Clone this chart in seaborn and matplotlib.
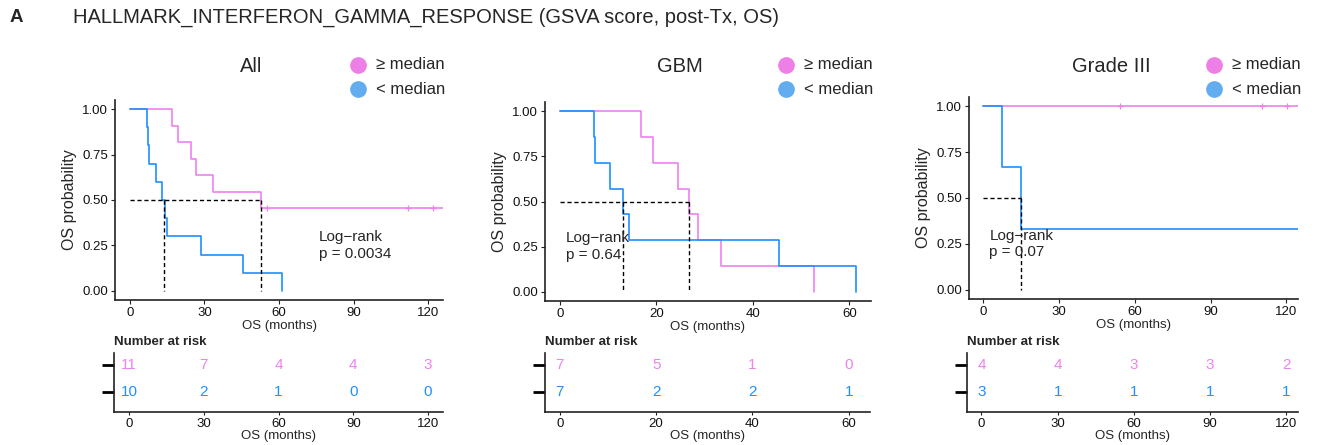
import numpy as np
import pandas as pd
import matplotlib
matplotlib.use("Agg")
import matplotlib.pyplot as plt
import matplotlib.transforms as mtransforms
import seaborn as sns

# ---------------- data ----------------
panel_titles = ["All", "GBM", "Grade III"]
group_labels = ["\u2265 median", "< median"]

# event (death) times and censored times, months
all_hi_events = [16.8, 19.3, 24.4, 26.7, 33.4, 52.6]
all_hi_censored = [55.0, 112.0, 122.0, 130.0, 131.0]
all_lo_events = [7.0, 7.4, 7.7, 10.5, 13.0, 14.1, 15.0, 28.7, 45.4, 61.3]
all_lo_censored = []

gbm_hi_events = [16.8, 19.3, 24.5, 26.7, 28.7, 33.3, 52.6]
gbm_hi_censored = []
gbm_lo_events = [7.0, 7.3, 10.3, 13.0, 14.3, 45.4, 61.3]
gbm_lo_censored = []

g3_hi_events = []
g3_hi_censored = [54.1, 110.5, 120.4, 130.0]
g3_lo_events = [7.5, 14.9]
g3_lo_censored = [130.0]

pvalues = ["0.0034", "0.64", "0.07"]
pval_x = [76.0, 1.2, 2.4]

xticks_all = [0, 30, 60, 90, 120]
xticks_gbm = [0, 20, 40, 60]
xticks_g3 = [0, 30, 60, 90, 120]

risk_hi_all = [11, 7, 4, 4, 3]
risk_lo_all = [10, 2, 1, 0, 0]
risk_hi_gbm = [7, 5, 1, 0]
risk_lo_gbm = [7, 2, 2, 1]
risk_hi_g3 = [4, 4, 3, 3, 2]
risk_lo_g3 = [3, 1, 1, 1, 1]

yticks = [0.0, 0.25, 0.5, 0.75, 1.0]

# ---------------- styling ----------------
sns.set_theme(style="white")
plt.rcParams["font.family"] = ["Liberation Sans", "DejaVu Sans"]
plt.rcParams["axes.unicode_minus"] = True

PINK = "#EE82EE"
BLUE = "#1E90FF"
PINK_LEG = "#EE7FE6"
BLUE_LEG = "#62ACF0"
SPINE = "#222222"

W, H = 1317, 445
fig = plt.figure(figsize=(W / 100, H / 100), dpi=100)


def px_axes(l, r, t, b):
    return fig.add_axes([l / W, 1 - b / H, (r - l) / W, (b - t) / H])


def km(events, censored):
    ev = np.array(events, float)
    ce = np.array(censored, float)
    times = np.concatenate([ev, ce])
    flags = np.concatenate([np.ones(len(ev)), np.zeros(len(ce))])
    order = np.argsort(times, kind="stable")
    times, flags = times[order], flags[order]
    n = len(times)
    s = 1.0
    xs, ys = [0.0], [1.0]
    cens_pts = []
    for i, (t, f) in enumerate(zip(times, flags)):
        at_risk = n - i
        if f == 1:
            s = s * (at_risk - 1) / at_risk
            xs.append(t)
            ys.append(s)
        else:
            cens_pts.append((t, s))
    if times.size and xs[-1] < times.max():
        xs.append(times.max())
        ys.append(s)
    # median (R survfit convention)
    med = None
    for j in range(1, len(xs)):
        if ys[j] < 0.5 - 1e-9:
            med = xs[j]
            break
        if abs(ys[j] - 0.5) < 1e-9:
            nxt = xs[j + 1] if j + 1 < len(xs) else xs[j]
            med = (xs[j] + nxt) / 2
            break
    return np.array(xs), np.array(ys), cens_pts, med


panels = [
    dict(title=panel_titles[0], hi=(all_hi_events, all_hi_censored), lo=(all_lo_events, all_lo_censored),
         xticks=xticks_all, xlim=(-6, 126), risk=(risk_hi_all, risk_lo_all),
         main=(115, 443, 100, 300), rt=(114, 443, 353, 412), p=pvalues[0], px=pval_x[0],
         title_x=251, leg_x=358),
    dict(title=panel_titles[1], hi=(gbm_hi_events, gbm_hi_censored), lo=(gbm_lo_events, gbm_lo_censored),
         xticks=xticks_gbm, xlim=(-3.065, 64.4), risk=(risk_hi_gbm, risk_lo_gbm),
         main=(545, 870.7, 102, 301), rt=(545, 870, 353, 412), p=pvalues[1], px=pval_x[1],
         title_x=680, leg_x=786),
    dict(title=panel_titles[2], hi=(g3_hi_events, g3_hi_censored), lo=(g3_lo_events, g3_lo_censored),
         xticks=xticks_g3, xlim=(-5.7, 124.6), risk=(risk_hi_g3, risk_lo_g3),
         main=(969, 1298, 97, 299), rt=(967, 1298, 353, 412), p=pvalues[2], px=pval_x[2],
         title_x=1111, leg_x=1214),
]

for P in panels:
    ax = px_axes(*P["main"])
    meds = []
    for (ev, ce), col in [(P["hi"], PINK), (P["lo"], BLUE)]:
        xs, ys, cens, med = km(ev, ce)
        df = pd.DataFrame({"t": xs, "s": ys})
        sns.lineplot(data=df, x="t", y="s", drawstyle="steps-post", color=col, lw=1.2,
                     estimator=None, sort=False, ax=ax)
        if cens:
            cdf = pd.DataFrame(cens, columns=["t", "s"])
            ax.plot(cdf["t"], cdf["s"], ls="none", marker="+", ms=5, mew=0.9, color=col)
        if med is not None:
            meds.append(med)
    if meds:
        ax.plot([0, max(meds)], [0.5, 0.5], color="black", lw=1.0, ls=(0, (3, 2)))
        for m in meds:
            ax.plot([m, m], [0.5, 0.0], color="black", lw=1.0, ls=(0, (3, 2)))
    ax.set_xlim(*P["xlim"])
    ax.set_ylim(-0.05, 1.05)
    ax.set_xticks(P["xticks"])
    ax.set_yticks(yticks)
    ax.set_yticklabels([f"{v:.2f}" for v in yticks])
    ax.set_xlabel("OS (months)", fontsize=9.5, labelpad=1)
    ax.set_ylabel("OS probability", fontsize=11.5, labelpad=4)
    ax.tick_params(labelsize=9.5, length=3, width=0.8, color=SPINE, pad=2, labelcolor="#111111",
                   left=True, bottom=True)
    for sp in ["top", "right"]:
        ax.spines[sp].set_visible(False)
    for sp in ["left", "bottom"]:
        ax.spines[sp].set_color(SPINE)
        ax.spines[sp].set_linewidth(1.2)
    ax.text(P["px"], 0.25, "Log\u2212rank\np = " + P["p"], fontsize=11, ha="left", va="center",
            linespacing=1.25)

    # titles / legend
    fig.text(P["title_x"] / W, 1 - 66 / H, P["title"], fontsize=14.5, ha="center", va="center")
    for k, (lab, col) in enumerate(zip(group_labels, [PINK_LEG, BLUE_LEG])):
        yy = 1 - (64.5 + 24.5 * k) / H
        fig.lines.append(plt.Line2D([P["leg_x"] / W], [yy], transform=fig.transFigure, marker="o",
                                    ms=11, color=col, ls="none"))
        fig.text((P["leg_x"] + 18) / W, yy, lab, fontsize=12, ha="left", va="center")

    # risk table
    rt = px_axes(*P["rt"])
    hi_r, lo_r = P["risk"]
    rows = pd.DataFrame({"t": P["xticks"] * 2, "n": hi_r + lo_r,
                         "row": [2] * len(hi_r) + [1] * len(lo_r)})
    for _, r in rows.iterrows():
        rt.text(r["t"], r["row"], str(int(r["n"])), color=PINK if r["row"] == 2 else BLUE,
                fontsize=11, ha="center", va="center")
    rt.set_xlim(*P["xlim"])
    rt.set_ylim(0.25, 2.43)
    rt.set_xticks(P["xticks"])
    rt.set_yticks([1, 2])
    rt.set_yticklabels(["", ""])
    rt.tick_params(axis="y", length=9, width=2, color="black", pad=0, left=True)
    rt.tick_params(axis="x", labelsize=9.5, length=2, width=0.8, color=SPINE, pad=2,
                   labelcolor="#111111", bottom=True)
    rt.set_xlabel("OS (months)", fontsize=9.5, labelpad=0)
    for sp in ["top", "right"]:
        rt.spines[sp].set_visible(False)
    for sp in ["left", "bottom"]:
        rt.spines[sp].set_color(SPINE)
        rt.spines[sp].set_linewidth(1.2)
    off = mtransforms.offset_copy(rt.transAxes, fig=fig, x=0, y=5, units="dots")
    rt.text(0, 1.0, "Number at risk", transform=off, fontsize=9.5, fontweight="bold",
            ha="left", va="bottom")

fig.text(10 / W, 1 - 17 / H, "A", fontsize=13.5, fontweight="bold", ha="left", va="center")
fig.text(73 / W, 1 - 17 / H, "HALLMARK_INTERFERON_GAMMA_RESPONSE (GSVA score, post-Tx, OS)",
         fontsize=14.5, ha="left", va="center")

fig.savefig("out.png", dpi=100)
